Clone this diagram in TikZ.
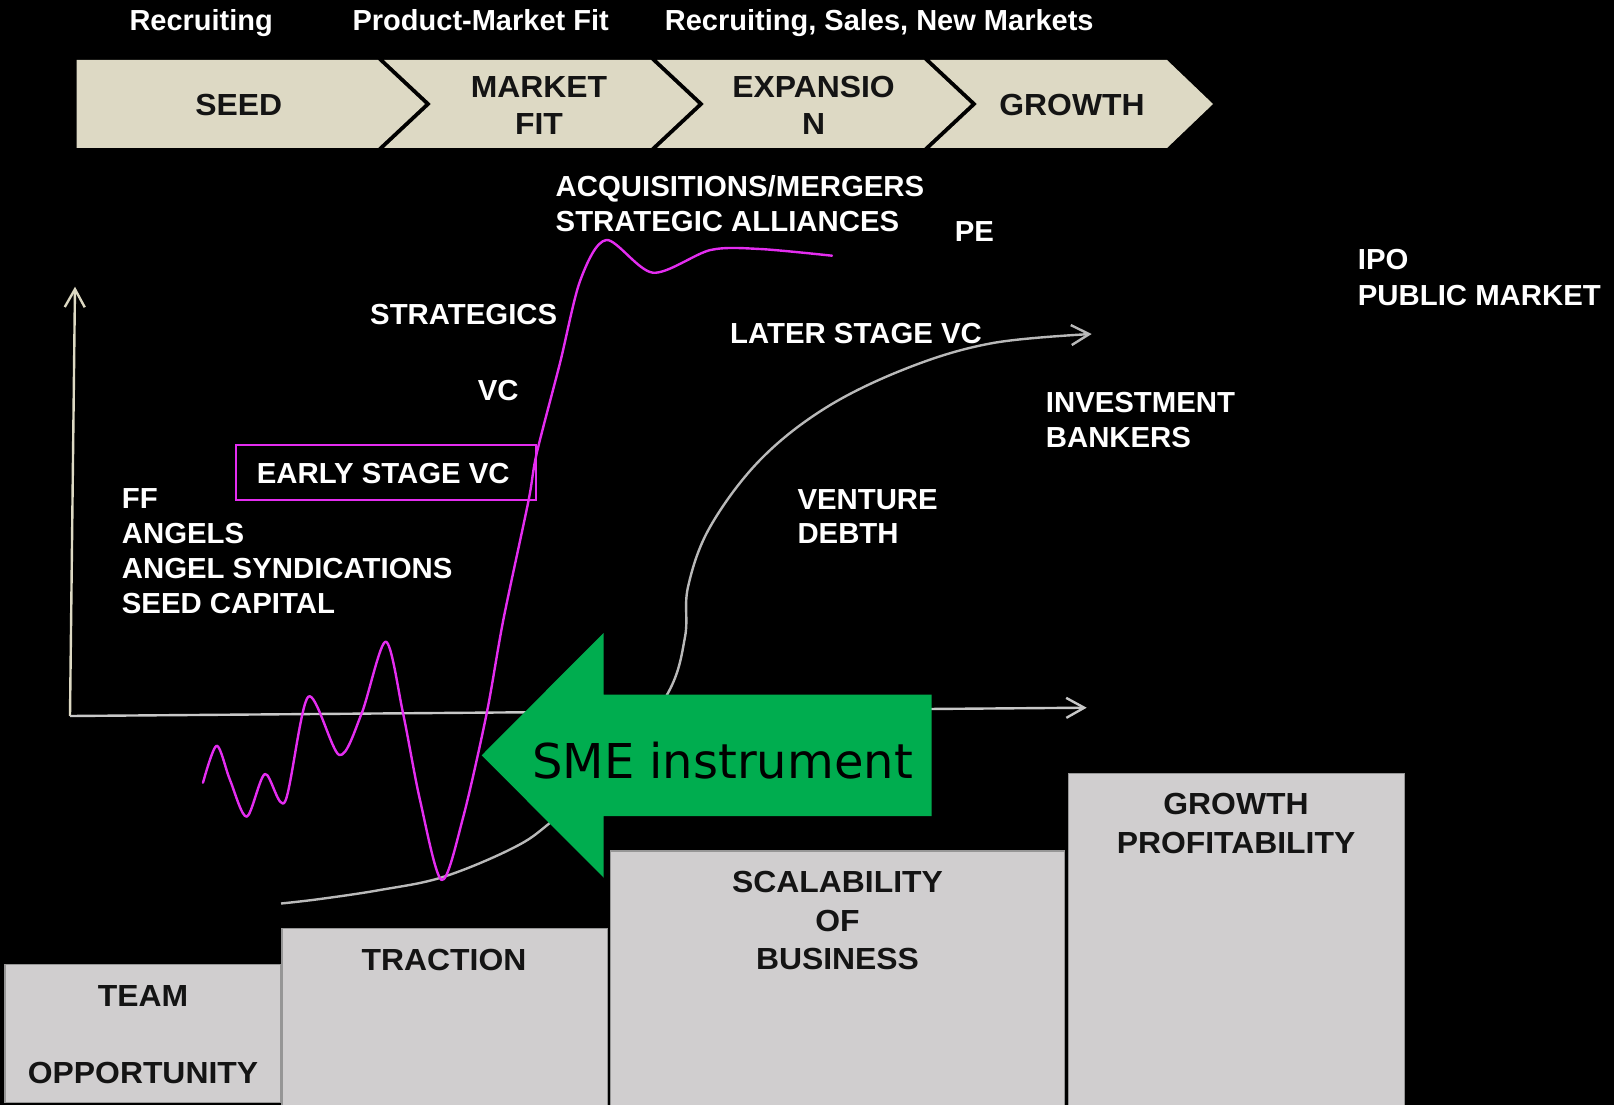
\documentclass[tikz,border=0pt]{standalone}
\usepackage{fontspec}
\setmainfont{Liberation Sans}
\newfontfamily\labelsans[FakeStretch=1.012]{Liberation Sans}
\newfontfamily\widesans[FakeStretch=1.045]{Liberation Sans}
\newfontfamily\smefont{DejaVu Sans}
\usetikzlibrary{arrows.meta}

\definecolor{chevfill}{RGB}{221,217,196}
\definecolor{axiscream}{RGB}{221,217,195}
\definecolor{axisgray}{RGB}{200,200,200}
\definecolor{curvegray}{RGB}{185,185,185}
\definecolor{fundmag}{RGB}{228,45,240}
\definecolor{smegreen}{RGB}{0,173,79}
\definecolor{stepfill}{RGB}{208,206,207}
\definecolor{stepedge}{RGB}{150,150,150}
\definecolor{inktext}{RGB}{20,20,20}

\begin{document}
\begin{tikzpicture}[x=1pt,y=-1pt,
  heading/.style={anchor=base west, inner sep=0pt, text=white,
    font=\bfseries\fontsize{29}{35}\selectfont},
  label/.style={anchor=base west, inner sep=0pt, text=white,
    font=\labelsans\bfseries\fontsize{29}{35}\selectfont},
  darktext/.style={anchor=base, inner sep=0pt, text=inktext,
    font=\widesans\bfseries\fontsize{30.5}{37}\selectfont},
  chevron/.style={fill=chevfill},
  stepbox/.style={fill=stepfill, draw=stepedge, line width=1.2pt},
  barbend/.style={-{Straight Barb[length=18pt,width=20pt]}},
  fundline/.style={draw=fundmag, line width=2.4pt, line join=round, line cap=round}]

% canvas
\useasboundingbox (0,0) rectangle (1614,1105);
\fill[black] (0,0) rectangle (1614,1105);

% stage headings
\node[heading] (hrec)  at (129.3,30.7) {Recruiting};
\node[heading] (hpmf)  at (352.4,30.7) {Product-Market Fit};
\node[heading] (hexp)  at (664.7,30.7) {Recruiting, Sales, New Markets};

% stage chevrons
\fill[chevron] (76.6,60) -- (378,60) -- (425,104) -- (378,148) -- (76.6,148) -- cycle;
\fill[chevron] (384,60) -- (651,60) -- (698,104) -- (651,148) -- (384,148) -- (431,104) -- cycle;
\fill[chevron] (657,60) -- (924,60) -- (971,104) -- (924,148) -- (657,148) -- (704,104) -- cycle;
\fill[chevron] (930,60) -- (1167,60) -- (1213,104) -- (1167,148) -- (930,148) -- (977,104) -- cycle;
\node[darktext] (cseed) at (238.7,116) {SEED};
\node[darktext] (cmkt1) at (539,97.3) {MARKET};
\node[darktext] (cmkt2) at (539,135) {FIT};
\node[darktext] (cexp1) at (813.5,97.3) {EXPANSIO};
\node[darktext] (cexp2) at (813.5,135) {N};
\node[darktext] (cgrow) at (1072,116) {GROWTH};

% axes
\coordinate (origin) at (70,716);
\coordinate (ytip) at (75,286.7);
\coordinate (xtip) at (1086.7,707.7);
\draw[axiscream, line width=2.4pt, barbend] (origin) -- (ytip);
\draw[axisgray, line width=2.4pt, barbend] (origin) -- (xtip);

% financing curve (grey)
\coordinate (gstart) at (281,903.5);
\coordinate (gend) at (1091.7,334);
\draw[curvegray, line width=2.4pt, barbend] plot[smooth, tension=0.6] coordinates {
  (gstart) (320,899) (380,890) (443,877) (513,848) (551,822) (615,765)
  (668,693) (685,637) (688,587) (710,527) (760,460) (827,407) (910,367)
  (993,343) (gend)};

% funding rollercoaster (magenta)
\draw[fundline] plot[smooth, tension=0.5] coordinates {
  (203,782.7) (216.7,745.7) (230,780) (246.7,816.7) (265,774) (285,801.7)
  (308.3,696.7) (339.3,755) (361.7,713.3) (385.7,641.7) (403,713) (420,800)
  (441.7,880) (463.3,816.7) (486.7,713.3) (503.3,620) (528.3,501.7)
  (536.7,453.3) (560,363) (580.4,280) (606.4,240) (653,272.7) (710.5,250)
  (760,249) (832,255.7)};

% funding source labels
\node[label] (acq)   at (555.5,196.7) {ACQUISITIONS/MERGERS};
\node[label] (alli)  at (555.5,231.7) {STRATEGIC ALLIANCES};
\node[label] (pe)    at (954.7,241.7) {PE};
\node[label] (ipo)   at (1357.7,269.3) {IPO};
\node[label] (pub)   at (1357.7,305) {PUBLIC MARKET};
\node[label] (strat) at (370,324) {STRATEGICS};
\node[label] (later) at (730,343.3) {LATER STAGE VC};
\node[label] (vc)    at (477.7,400.7) {VC};
\node[label] (inv1)  at (1045.7,412.7) {INVESTMENT};
\node[label] (inv2)  at (1045.7,447.3) {BANKERS};
\draw[fundmag, line width=2pt] (236,445) rectangle (536,500);
\node[label] (early) at (256.7,483.3) {EARLY STAGE VC};
\node[label] (ven1)  at (797.3,509) {VENTURE};
\node[label] (ven2)  at (797.3,543.3) {DEBTH};
\node[label] (ff)    at (121.7,508.3) {FF};
\node[label] (ang)   at (121.7,543.3) {ANGELS};
\node[label] (synd)  at (121.7,578.3) {ANGEL SYNDICATIONS};
\node[label] (seedc) at (121.7,613.3) {SEED CAPITAL};

% SME instrument arrow
\fill[smegreen] (481.7,755.3) -- (603.5,633) -- (603.5,694.5) -- (931.7,694.5)
  -- (931.7,816) -- (603.5,816) -- (603.5,877.5) -- cycle;
\node[anchor=base, inner sep=0pt, text=black,
  font=\smefont\fontsize{48}{58}\selectfont] (sme) at (722.5,778.3) {SME instrument};

% milestone steps
\draw[stepbox] (5,964.3) rectangle (281,1102.7);
\draw[stepbox] (282,928.3) rectangle (607.3,1106);
\draw[stepbox] (610.4,851) rectangle (1064.3,1106);
\draw[stepbox] (1068.3,773.3) rectangle (1404.3,1106);
\node[darktext] (team)  at (143,1006.7) {TEAM};
\node[darktext] (opp)   at (143,1083.3) {OPPORTUNITY};
\node[darktext] (trac)  at (444,970.7) {TRACTION};
\node[darktext] (scal1) at (837.5,892.7) {SCALABILITY};
\node[darktext] (scal2) at (837.5,931) {OF};
\node[darktext] (scal3) at (837.5,969.3) {BUSINESS};
\node[darktext] (gp1)   at (1236,814) {GROWTH};
\node[darktext] (gp2)   at (1236,853.3) {PROFITABILITY};
\end{tikzpicture}
\end{document}
